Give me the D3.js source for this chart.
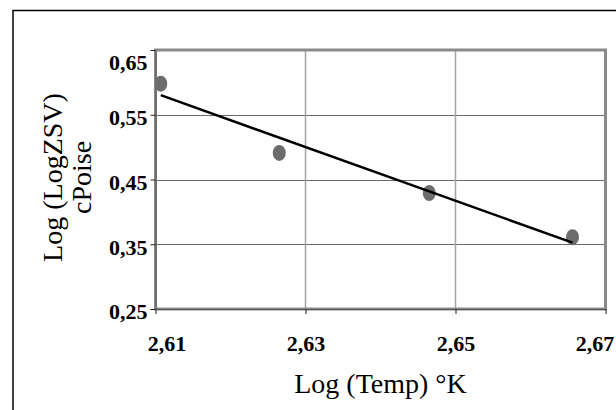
<!DOCTYPE html>
<html>
<head>
<meta charset="utf-8">
<script src="https://cdn.jsdelivr.net/npm/d3@7"></script>
<style>
  html, body { margin: 0; padding: 0; background: #fff; }
  svg { display: block; }
  text { font-family: "Liberation Serif", "Times New Roman", serif; fill: #000; }
</style>
</head>
<body>
<svg id="chart" width="616" height="410"></svg>
<script>
// Log of absolute temperature (°K) and log of the log of the zero-shear viscosity (cPoise)
const logTemp = [2.6107, 2.6265, 2.6465, 2.6656];
const logLogZSV = [0.598, 0.491, 0.429, 0.361];

const xTickValues = [2.61, 2.63, 2.65, 2.67];
const yTickValues = [0.25, 0.35, 0.45, 0.55, 0.65];

const xTitle = "Log (Temp) °K";
const yTitleLines = ["Log (LogZSV)", "cPoise"];

const fmt = d => d.toFixed(2).replace(".", ",");

const svg = d3.select("#chart");
const W = 616, H = 410;
const plot = { left: 155.5, top: 50, right: 605.5, bottom: 309 };

const x = d3.scaleLinear().domain([2.61, 2.67]).range([plot.left, plot.right]);
const y = d3.scaleLinear().domain([0.25, 0.65]).range([plot.bottom, plot.top]);

// outer chart frame (only top and left edges fall inside the page)
svg.append("rect")
  .attr("x", 13).attr("y", 10.5)
  .attr("width", W + 20).attr("height", H + 20)
  .attr("fill", "none").attr("stroke", "#000").attr("stroke-width", 1.5);

// gridlines
svg.append("g").selectAll("line").data(yTickValues.slice(1, -1)).join("line")
  .attr("x1", plot.left).attr("x2", plot.right)
  .attr("y1", d => Math.round(y(d)) + 0.5).attr("y2", d => Math.round(y(d)) + 0.5)
  .attr("stroke", "#6a6a6a").attr("stroke-width", 1);

svg.append("g").selectAll("line").data(xTickValues.slice(1, -1)).join("line")
  .attr("x1", d => x(d)).attr("x2", d => x(d))
  .attr("y1", plot.top).attr("y2", plot.bottom)
  .attr("stroke", "#a3a3a3").attr("stroke-width", 1.5);

// least-squares trend line over the measured range
const mx = d3.mean(logTemp), my = d3.mean(logLogZSV);
const sxy = d3.sum(logTemp, (v, i) => (v - mx) * (logLogZSV[i] - my));
const sxx = d3.sum(logTemp, v => (v - mx) * (v - mx));
const slope = sxy / sxx, intercept = my - slope * mx;
const xMin = d3.min(logTemp), xMax = d3.max(logTemp);

// data markers
svg.append("g").selectAll("ellipse").data(logTemp).join("ellipse")
  .attr("cx", d => x(d))
  .attr("cy", (d, i) => y(logLogZSV[i]))
  .attr("rx", 6.5).attr("ry", 8)
  .attr("fill", "#6c6c6c");

svg.append("line")
  .attr("x1", x(xMin)).attr("y1", y(slope * xMin + intercept))
  .attr("x2", x(xMax)).attr("y2", y(slope * xMax + intercept))
  .attr("stroke", "#000").attr("stroke-width", 2.5);

// plot area border
svg.append("rect")
  .attr("x", plot.left).attr("y", plot.top)
  .attr("width", plot.right - plot.left).attr("height", plot.bottom - plot.top)
  .attr("fill", "none").attr("stroke", "#8a8a8a").attr("stroke-width", 3);

// axes
const yAxis = d3.axisLeft(y).tickValues(yTickValues).tickFormat(fmt).tickSizeInner(5).tickSizeOuter(0).tickPadding(3);
const gy = svg.append("g").attr("transform", `translate(${plot.left},0)`).call(yAxis);
gy.select(".domain").attr("stroke", "#555").attr("stroke-width", 1);
gy.selectAll(".tick line").attr("stroke", "#222");
gy.selectAll(".tick text")
  .style("font-size", "22px").style("font-weight", "bold")
  .attr("dy", d => d === 0.65 ? "0.9em" : "0.45em");

const xAxis = d3.axisBottom(x).tickValues(xTickValues).tickFormat(fmt).tickSizeInner(5).tickSizeOuter(0).tickPadding(21);
const gx = svg.append("g").attr("transform", `translate(0,${plot.bottom})`).call(xAxis);
gx.select(".domain").attr("stroke", "#555").attr("stroke-width", 1);
gx.selectAll(".tick line").attr("stroke", "#222");
gx.selectAll(".tick text")
  .style("font-size", "22px").style("font-weight", "bold")
  .attr("dx", d => d === 2.61 ? 11 : d === 2.67 ? -11 : 0);

// axis titles
svg.append("text")
  .attr("x", (plot.left + plot.right) / 2).attr("y", 393)
  .attr("text-anchor", "middle")
  .style("font-size", "28px")
  .text(xTitle);

const yMid = (plot.top + plot.bottom) / 2 - 2;
svg.append("g")
  .attr("transform", `translate(0,${yMid}) rotate(-90)`)
  .selectAll("text").data(yTitleLines).join("text")
  .attr("x", 0)
  .attr("y", (d, i) => 62 + i * 29)
  .attr("text-anchor", "middle")
  .style("font-size", "28px")
  .text(d => d);
</script>
</body>
</html>
